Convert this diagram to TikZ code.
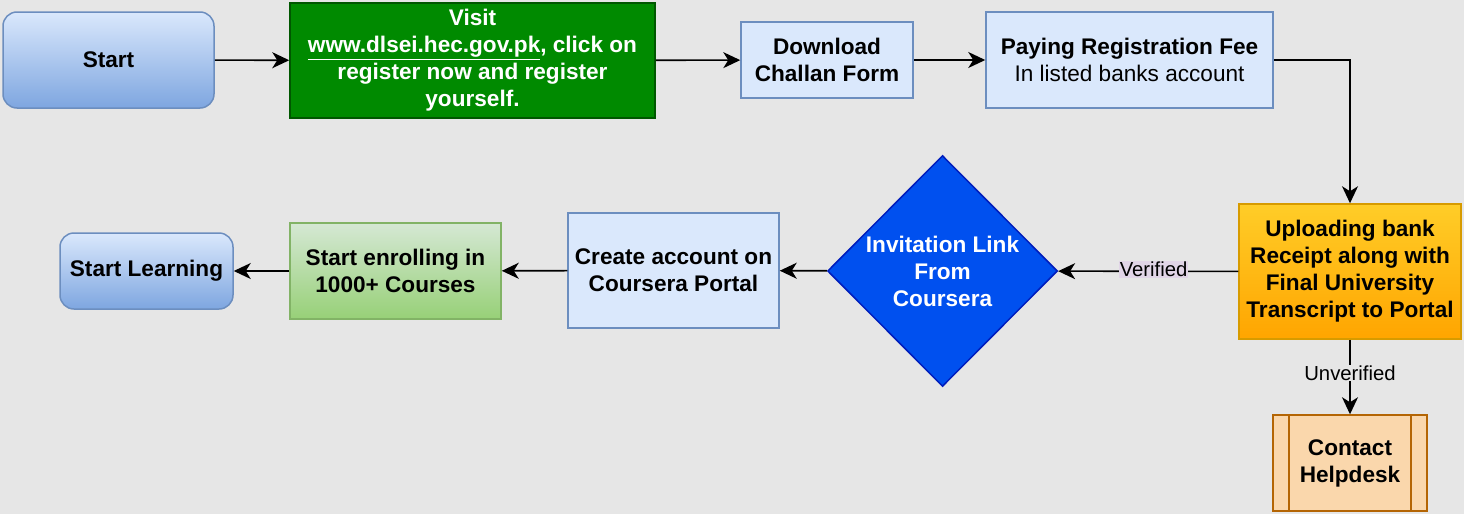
\documentclass[tikz,border=0pt]{standalone}
\usepackage{fontspec}
\setmainfont{Liberation Sans}
\usetikzlibrary{shapes.geometric, arrows.meta}
\definecolor{bgGray}{HTML}{E6E6E6}
\definecolor{blueFill}{HTML}{DAE8FC}
\definecolor{blueDark}{HTML}{7EA6E0}
\definecolor{blueEdge}{HTML}{6C8EBF}
\definecolor{greenFill}{HTML}{008A00}
\definecolor{greenEdge}{HTML}{005700}
\definecolor{lgreenTop}{HTML}{D5E8D4}
\definecolor{lgreenBot}{HTML}{97D077}
\definecolor{lgreenEdge}{HTML}{82B366}
\definecolor{orangeTop}{HTML}{FFCD28}
\definecolor{orangeBot}{HTML}{FFA500}
\definecolor{orangeEdge}{HTML}{D79B00}
\definecolor{peachFill}{HTML}{FAD7AC}
\definecolor{peachEdge}{HTML}{B46504}
\definecolor{royal}{HTML}{0050EF}
\definecolor{royalEdge}{HTML}{001DBC}
\definecolor{lilac}{HTML}{E1D5E7}
\tikzset{
  box/.style={rectangle, draw=blueEdge, fill=blueFill, line width=1.5pt, font=\bfseries, align=center, inner sep=0pt},
  roundbox/.style={box, rounded corners=14pt, top color=blueFill, bottom color=blueDark},
  link/.style={line width=1.6pt, -{Stealth[length=17pt, width=16pt, inset=5pt]}},
  tag/.style={font=\fontsize{20.3}{24}\selectfont, inner sep=1pt}
}
\begin{document}
\fontsize{22.6}{27}\selectfont
\begin{tikzpicture}[x=1pt, y=-1pt]
  \useasboundingbox[fill=bgGray] (0,0) rectangle (1464,514);
  % top row
  \node[roundbox, minimum width=211pt, minimum height=96pt] at (108.5,60) (start) {Start};
  \node[box, draw=greenEdge, fill=greenFill, text=white, minimum width=365pt, minimum height=115pt] at (472.5,60.5) (visit) {Visit\\\underline{www.dlsei.hec.gov.pk}, click on\\register now and register\\yourself.};
  \node[box, minimum width=172pt, minimum height=76pt] at (827,60) (challan) {Download\\Challan Form};
  \node[box, minimum width=287pt, minimum height=96pt] at (1129.5,60) (fee) {Paying Registration Fee\\\mdseries In listed banks account};
  % right column
  \node[box, draw=orangeEdge, top color=orangeTop, bottom color=orangeBot, minimum width=222pt, minimum height=135pt] at (1350,271.5) (upload) {Uploading bank\\Receipt along with\\Final University\\Transcript to Portal};
  \node[box, draw=peachEdge, fill=peachFill, minimum width=154pt, minimum height=96pt,
        path picture={\draw[peachEdge, line width=1.5pt]
          ([xshift=16pt]path picture bounding box.north west) -- ([xshift=16pt]path picture bounding box.south west)
          ([xshift=-16pt]path picture bounding box.north east) -- ([xshift=-16pt]path picture bounding box.south east);}]
        at (1350,463) (helpdesk) {Contact\\Helpdesk};
  % bottom row
  \node[diamond, draw=royalEdge, fill=royal, line width=1.5pt, inner sep=0pt, minimum width=230pt, minimum height=231pt,
        label={[font=\bfseries, text=white, align=center]center:Invitation Link\\From\\Coursera}] at (942.5,271) (invite) {};
  \node[box, minimum width=211pt, minimum height=115pt] at (673.5,270.5) (account) {Create account on\\Coursera Portal};
  \node[box, draw=lgreenEdge, top color=lgreenTop, bottom color=lgreenBot, minimum width=211pt, minimum height=96pt] at (395.5,271) (enroll) {Start enrolling in\\1000+ Courses};
  \node[roundbox, minimum width=173pt, minimum height=76pt] at (146.5,271) (learning) {Start Learning};
  % connectors
  \draw[link] (start) -- (visit);
  \draw[link] (visit) -- (challan);
  \draw[link] (challan) -- (fee);
  \draw[link] (fee.east) -| (upload.north);
  \draw[link] (upload) -- node[tag, fill=lilac, pos=0.47, yshift=2pt] {Verified} (invite);
  \draw[link] (upload) -- node[tag, fill=bgGray, yshift=4pt] {Unverified} (helpdesk);
  \draw[link] (invite) -- (account);
  \draw[link] (account) -- (enroll);
  \draw[link] (enroll) -- (learning);
\end{tikzpicture}
\end{document}
